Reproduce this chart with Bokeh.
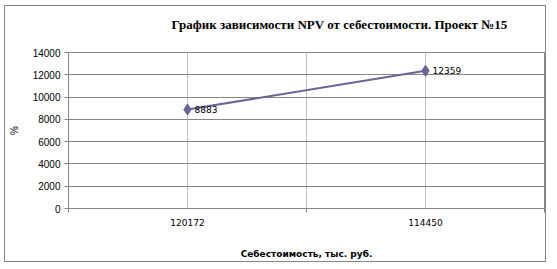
import numpy as np
from bokeh.plotting import figure
from bokeh.models import (ColumnDataSource, FixedTicker, LabelSet, Title, LinearAxis, Range1d)
from bokeh.core.properties import value
from bokeh.embed import file_html
from bokeh.resources import INLINE

# ---- data ----
categories = ["120172", "114450"]
npv_values = [8883, 12359]
y_ticks = [0, 2000, 4000, 6000, 8000, 10000, 12000, 14000]

title_text = "График зависимости NPV от себестоимости. Проект №15"
x_title = "Себестоимость, тыс. руб."
y_title = "%"

x_pos = list(np.arange(len(categories)) + 0.5)
src = ColumnDataSource(dict(x=x_pos, y=npv_values, lbl=[str(v) for v in npv_values]))

SERIES = "#666699"
DARK = "#868686"
LIGHT = "#c0c0c0"

p = figure(width=542, height=257, output_backend="svg", toolbar_location=None,
           title_location=None,
           x_range=Range1d(0, len(categories)), y_range=Range1d(0, 14000),
           min_border_left=61, min_border_right=3, min_border_top=46, min_border_bottom=55,
           background_fill_color="white", border_fill_color="white")
p.styles = {"border": "1px solid #868686", "margin-left": "4px", "margin-top": "5px"}

xa = p.below[0]
ya = p.left[0]

# invisible spacer axis between the title and the plot area
spacer = LinearAxis(ticker=FixedTicker(ticks=[x_pos[0]]), major_tick_out=16, major_tick_in=0,
                    axis_line_color=None, major_tick_line_color=None,
                    minor_tick_line_color=None, major_label_text_font_size="0px",
                    major_label_standoff=0,
                    major_label_overrides={float(x_pos[0]): ""})
p.add_layout(spacer, "above")

title = Title(text=title_text, text_font="Liberation Serif", text_font_style="bold",
              text_font_size="13px", text_color="black", align="left", offset=103,
              standoff=10)
p.add_layout(title, "above")

p.outline_line_color = DARK
p.outline_line_width = 1

# x axis
xa.ticker = FixedTicker(ticks=x_pos, minor_ticks=list(range(len(categories) + 1)))
xa.major_label_overrides = {float(x): c for x, c in zip(x_pos, categories)}
xa.major_tick_line_color = None
xa.major_tick_out = 4
xa.major_tick_in = 0
xa.minor_tick_out = 4
xa.minor_tick_in = 0
xa.minor_tick_line_color = DARK
xa.axis_line_color = DARK
xa.major_label_text_font = "DejaVu Sans"
xa.major_label_text_font_size = "9px"
xa.major_label_text_color = "black"
xa.major_label_standoff = 6
xa.axis_label = x_title
xa.axis_label_text_font = "DejaVu Sans"
xa.axis_label_text_font_style = "bold"
xa.axis_label_text_font_size = "9px"
xa.axis_label_text_color = "black"
xa.axis_label_standoff = 20

# y axis
ya.ticker = FixedTicker(ticks=y_ticks)
ya.minor_tick_line_color = None
ya.major_tick_out = 4
ya.major_tick_in = 0
ya.major_tick_line_color = DARK
ya.axis_line_color = DARK
ya.major_label_text_font = "Liberation Sans"
ya.major_label_text_font_size = "10px"
ya.major_label_text_color = "black"
ya.major_label_standoff = 4
ya.axis_label = y_title
ya.axis_label_text_font = "Liberation Sans"
ya.axis_label_text_font_style = "normal"
ya.axis_label_text_font_size = "10px"
ya.axis_label_text_color = "black"
ya.axis_label_standoff = 10

# grids
xg = p.xgrid[0]
yg = p.ygrid[0]
xg.ticker = FixedTicker(ticks=[0.5, 1.0, 1.5])
xg.grid_line_color = LIGHT
xg.grid_line_width = 1
yg.ticker = FixedTicker(ticks=y_ticks)
yg.grid_line_color = DARK
yg.grid_line_width = 1

p.line("x", "y", source=src, line_color=SERIES, line_width=2)
p.scatter("x", "y", source=src, marker="diamond", size=11, fill_color=SERIES, line_color=SERIES)

labels = LabelSet(x="x", y="y", text="lbl", source=src, x_offset=7, y_offset=0,
                  text_baseline="middle", text_align="left",
                  text_font=value("DejaVu Sans"), text_font_size=value("9px"),
                  text_color="black")
p.add_layout(labels)

open("out.html", "w").write(file_html(p, INLINE))
